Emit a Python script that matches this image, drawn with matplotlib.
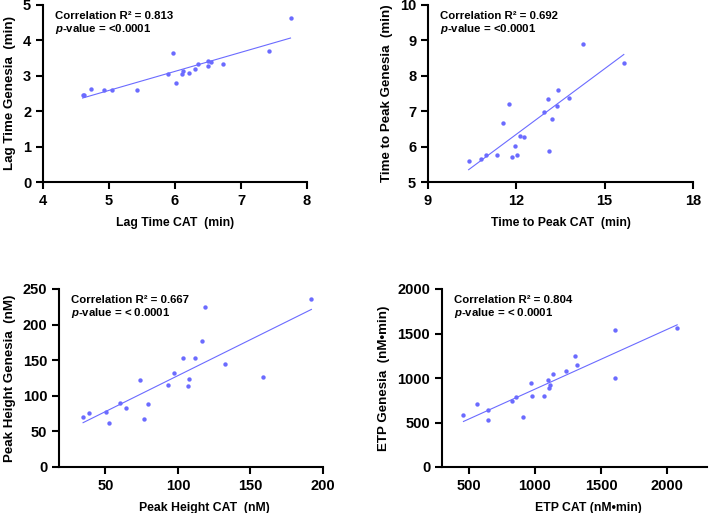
import numpy as np
import matplotlib.pyplot as plt

plt.rcParams['font.family'] = ['Liberation Sans', 'DejaVu Sans']
plt.rcParams['font.weight'] = 'bold'
plt.rcParams['mathtext.fontset'] = 'custom'
plt.rcParams['mathtext.bf'] = 'Liberation Sans:bold'
plt.rcParams['mathtext.bfit'] = 'Liberation Sans:italic:bold'

# lag time (min)
lag_cat = [4.60, 4.62, 4.72, 4.93, 5.04, 5.42, 5.89, 5.97, 6.01, 6.10,
           6.12, 6.21, 6.31, 6.35, 6.50, 6.50, 6.54, 6.72, 7.43, 7.75]
lag_gen = [2.47, 2.45, 2.64, 2.59, 2.59, 2.61, 3.04, 3.65, 2.81, 3.06,
           3.13, 3.08, 3.19, 3.33, 3.42, 3.27, 3.38, 3.33, 3.69, 4.63]

# time to peak (min)
ttp_cat = [10.38, 10.80, 10.96, 11.33, 11.54, 11.76, 11.84, 11.95, 12.01, 12.13,
           12.27, 12.93, 13.09, 13.10, 13.22, 13.38, 13.43, 13.79, 14.27, 15.65]
ttp_gen = [5.58, 5.66, 5.75, 5.75, 6.66, 7.19, 5.71, 6.01, 5.76, 6.30,
           6.26, 6.98, 7.35, 5.88, 6.79, 7.15, 7.61, 7.36, 8.91, 8.37]

# peak height (nM)
ph_cat = [34.6, 38.7, 50.5, 52.3, 59.9, 64.2, 73.9, 76.9, 79.4, 93.0,
          97.3, 103.5, 107.7, 106.7, 111.6, 116.9, 118.7, 132.2, 158.7, 192.0]
ph_gen = [70.5, 75.7, 76.6, 61.6, 89.3, 83.2, 122.2, 67.2, 88.8, 115.1,
          132.0, 153.2, 124.1, 113.3, 153.7, 177.6, 224.6, 144.3, 125.9, 235.4]

# ETP (nM*min)
etp_cat = [462, 563, 646, 648, 829, 859, 910, 970, 982, 1073,
           1103, 1106, 1113, 1136, 1236, 1304, 1319, 1603, 1603, 2075]
etp_gen = [583, 707, 639, 530, 737, 782, 564, 947, 801, 801,
           981, 891, 917, 1045, 1083, 1252, 1143, 1541, 1004, 1564]

r2 = ['0.813', '0.692', '0.667', '0.804']
pval = ['<0.0001', '<0.0001', '< 0.0001', '< 0.0001']

col = '#6b6bff'

fig = plt.figure(figsize=(7.09, 5.13), dpi=100)
W, H = 709, 513
def add_ax(x0, x1, y0, y1):
    return fig.add_axes([x0 / W, 1 - y1 / H, (x1 - x0) / W, (y1 - y0) / H])

panels = [
    (add_ax(43, 307, 5, 182), lag_cat, lag_gen, (4, 8), [4, 5, 6, 7, 8], (0, 5), [0, 1, 2, 3, 4, 5],
     'Lag Time CAT  (min)', 'Lag Time Genesia  (min)', 0.5),
    (add_ax(428, 693, 5, 182), ttp_cat, ttp_gen, (9, 18), [9, 12, 15, 18], (5, 10), [5, 6, 7, 8, 9, 10],
     'Time to Peak CAT  (min)', 'Time to Peak Genesia  (min)', 0.5),
    (add_ax(59, 323, 289, 467), ph_cat, ph_gen, (18, 200), [50, 100, 150, 200], (0, 250), [0, 50, 100, 150, 200, 250],
     'Peak Height CAT  (nM)', 'Peak Height Genesia  (nM)', 0.55),
    (add_ax(442, 707, 289, 467), etp_cat, etp_gen, (300, 2300), [500, 1000, 1500, 2000], (0, 2000), [0, 500, 1000, 1500, 2000],
     'ETP CAT (nM\u2022min)', 'ETP Genesia  (nM\u2022min)', 0.553),
]

for i, (ax, x, y, xl, xt, yl, yt, xlab, ylab, xlpos) in enumerate(panels):
    x = np.array(x); y = np.array(y)
    ax.scatter(x, y, s=10, color=col, zorder=3, linewidths=0)
    k, b = np.polyfit(x, y, 1)
    xx = np.array([x.min(), x.max()])
    ax.plot(xx, k * xx + b, color=col, lw=0.8)
    ax.set_xlim(xl); ax.set_ylim(yl)
    ax.set_xticks(xt); ax.set_yticks(yt)
    for s in ['top', 'right']:
        ax.spines[s].set_visible(False)
    for s in ['left', 'bottom']:
        ax.spines[s].set_linewidth(1.5)
    ax.tick_params(width=1.5, length=5, labelsize=10.5)
    ax.set_xlabel(xlab, fontsize=8.8, fontweight='bold', va='center')
    ax.xaxis.set_label_coords(xlpos, -0.232)
    ax.set_ylabel(ylab, fontsize=9.6, fontweight='bold', labelpad=5)
    ax.text(0.045, 0.94, 'Correlation R\u00b2 = ' + r2[i], transform=ax.transAxes,
            fontsize=8.2, fontweight='bold', va='center')
    ax.text(0.045, 0.865, '$\\boldsymbol{p}$-value = ' + pval[i], transform=ax.transAxes,
            fontsize=8.2, fontweight='bold', va='center')

fig.savefig('out.png', dpi=100)
